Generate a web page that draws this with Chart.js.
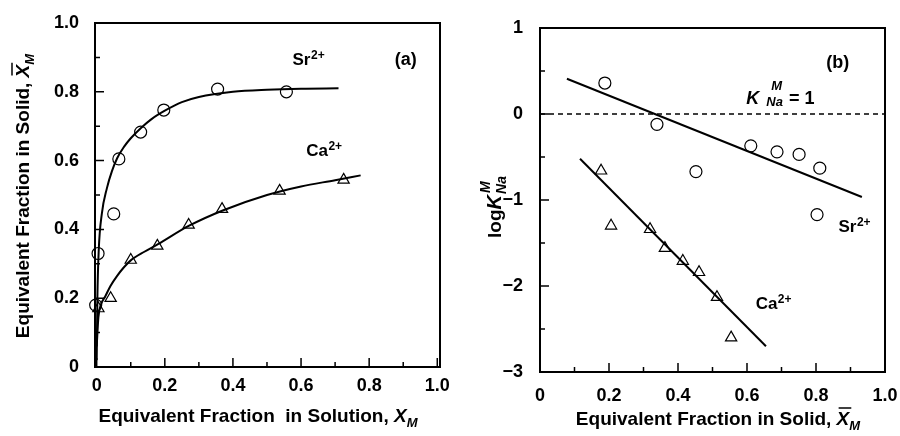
<!DOCTYPE html>
<html>
<head>
<meta charset="utf-8">
<script src="https://cdn.jsdelivr.net/npm/chart.js@4.4.0/dist/chart.umd.min.js"></script>
<style>
  body { margin: 0; background: #fff; }
  #wrap { position: relative; width: 900px; height: 436px; }
  canvas { position: absolute; top: 0; }
</style>
</head>
<body>
<div id="wrap">
  <canvas id="chartA" width="450" height="436" style="left:0"></canvas>
  <canvas id="chartB" width="450" height="436" style="left:450px"></canvas>
</div>
<script>
'use strict';

// ---- panel (a): equivalent fraction in solid vs in solution
let srSolution = [-0.003, 0.004, 0.05, 0.065, 0.129, 0.197, 0.355, 0.557];
let srSolid = [0.18, 0.33, 0.445, 0.605, 0.683, 0.747, 0.808, 0.80];
let caSolution = [0.005, 0.041, 0.10, 0.178, 0.27, 0.368, 0.537, 0.725];
let caSolid = [0.17, 0.20, 0.311, 0.352, 0.413, 0.459, 0.512, 0.544];

// fitted curves
let srCurveX = [0, 0.002, 0.006, 0.015, 0.03, 0.045, 0.06, 0.08, 0.1, 0.13, 0.16, 0.2, 0.25, 0.3, 0.4, 0.5, 0.6, 0.71];
let srCurveY = [0.02, 0.2, 0.34, 0.445, 0.52, 0.57, 0.607, 0.64, 0.665, 0.695, 0.72, 0.745, 0.77, 0.785, 0.80, 0.806, 0.809, 0.81];
let caCurveX = [0, 0.005, 0.012, 0.025, 0.04, 0.06, 0.08, 0.1, 0.14, 0.18, 0.27, 0.37, 0.5, 0.6, 0.7, 0.775];
let caCurveY = [0.06, 0.145, 0.18, 0.205, 0.235, 0.265, 0.29, 0.31, 0.335, 0.357, 0.41, 0.455, 0.5, 0.525, 0.543, 0.557];

let ticksA_x = [0, 0.2, 0.4, 0.6, 0.8, 1.0];
let labelsA_x = ['0', '0.2', '0.4', '0.6', '0.8', '1.0'];
let ticksA_y = [0, 0.2, 0.4, 0.6, 0.8, 1.0];
let labelsA_y = ['0', '0.2', '0.4', '0.6', '0.8', '1.0'];

// ---- panel (b): log K vs equivalent fraction in solid
let srSolidB = [0.188, 0.339, 0.452, 0.611, 0.687, 0.751, 0.811, 0.803];
let srLogK = [0.36, -0.12, -0.67, -0.37, -0.44, -0.47, -0.63, -1.17];
let caSolidB = [0.177, 0.206, 0.319, 0.362, 0.414, 0.461, 0.513, 0.554];
let caLogK = [-0.66, -1.30, -1.34, -1.56, -1.71, -1.84, -2.13, -2.60];

let srLineX = [0.078, 0.933];
let srLineY = [0.41, -0.965];
let caLineX = [0.116, 0.655];
let caLineY = [-0.52, -2.70];
let unityX = [0, 1];
let unityY = [0, 0];

let ticksB_x = [0, 0.2, 0.4, 0.6, 0.8, 1.0];
let labelsB_x = ['0', '0.2', '0.4', '0.6', '0.8', '1.0'];
let ticksB_y = [-3, -2, -1, 0, 1];
let labelsB_y = ['\u22123', '\u22122', '\u22121', '0', '1'];

const FAM = '"Liberation Sans", Arial, Helvetica, sans-serif';
function fnt(size, style) { return (style || 'bold') + ' ' + size + 'px ' + FAM; }

function pts(xs, ys) {
  return xs.map((x, i) => ({ x: x, y: ys[i] }));
}

// draw a row of text pieces (sub/superscripts, overlines)
function drawRich(ctx, x, y, parts, align) {
  let total = 0;
  parts.forEach(p => {
    ctx.font = p.font;
    p.w = ctx.measureText(p.t).width;
    if (p.adv !== false) total += p.w + (p.dx || 0);
  });
  let cx = align === 'center' ? x - total / 2 : (align === 'right' ? x - total : x);
  ctx.textAlign = 'left';
  ctx.textBaseline = 'alphabetic';
  ctx.fillStyle = '#000';
  parts.forEach(p => {
    ctx.font = p.font;
    let px = cx + (p.dx || 0);
    ctx.fillText(p.t, px, y + (p.dy || 0));
    if (p.over) {
      ctx.save();
      ctx.strokeStyle = '#000';
      ctx.lineWidth = 1.5;
      ctx.beginPath();
      ctx.moveTo(px + 2, y - p.over);
      ctx.lineTo(px + p.w + 2, y - p.over);
      ctx.stroke();
      ctx.restore();
    }
    if (p.adv !== false) cx = px + p.w;
  });
}

function makeDecor(cfg) {
  return {
    id: 'decor',
    afterDraw(chart) {
      let ctx = chart.ctx;
      let a = chart.chartArea;
      let xs = chart.scales.x, ys = chart.scales.y;
      ctx.save();
      ctx.strokeStyle = '#000';
      // inward ticks on bottom and left
      ctx.lineWidth = 1.5;
      ctx.beginPath();
      for (let v = cfg.xFrom; v <= cfg.xTo + 1e-9; v += cfg.xStep) {
        let px = xs.getPixelForValue(v);
        let major = Math.abs(v / cfg.xMajor - Math.round(v / cfg.xMajor)) < 1e-6;
        ctx.moveTo(px, a.bottom);
        ctx.lineTo(px, a.bottom - (major ? 9 : 5));
      }
      for (let v = cfg.yFrom; v <= cfg.yTo + 1e-9; v += cfg.yStep) {
        let py = ys.getPixelForValue(v);
        let major = Math.abs(v / cfg.yMajor - Math.round(v / cfg.yMajor)) < 1e-6;
        ctx.moveTo(a.left, py);
        ctx.lineTo(a.left + (major ? 9 : 5), py);
      }
      ctx.stroke();
      // frame
      ctx.lineWidth = 2;
      ctx.strokeRect(a.left, a.top, a.right - a.left, a.bottom - a.top);
      // labels inside the plot
      cfg.notes.forEach(n => {
        drawRich(ctx, xs.getPixelForValue(n.x), ys.getPixelForValue(n.y), n.parts, n.align || 'left');
      });
      // axis titles
      drawRich(ctx, cfg.xTitle.cx, cfg.xTitle.base, cfg.xTitle.parts, 'center');
      ctx.translate(cfg.yTitle.base, cfg.yTitle.cy);
      ctx.rotate(-Math.PI / 2);
      drawRich(ctx, 0, 0, cfg.yTitle.parts, 'center');
      ctx.restore();
    }
  };
}

function scaleOpts(min, max, ticks, labels, fitSize, isX, pad) {
  return {
    type: 'linear',
    min: min,
    max: max,
    afterBuildTicks: s => { s.ticks = ticks.map(v => ({ value: v })); },
    afterFit: s => {
      // keep the plot box where the picture has it, labels may overhang
      if (isX) { s.height = fitSize; s.paddingLeft = 0; s.paddingRight = 0; }
      else { s.width = fitSize; s.paddingTop = 0; s.paddingBottom = 0; }
    },
    grid: { display: false, drawTicks: false },
    border: { display: false },
    title: { display: false },
    ticks: {
      padding: pad,
      color: '#000',
      font: { family: FAM, size: 18, weight: 'bold' },
      callback: (v, i) => labels[i]
    }
  };
}

function ion(name) {
  return [{ t: name, font: fnt(17) }, { t: '2+', font: fnt(12), dy: -6, dx: 0.5 }];
}

let lineDs = (data) => ({
  type: 'scatter', data: data, showLine: true, borderColor: '#000', borderWidth: 2,
  pointRadius: 0, cubicInterpolationMode: 'monotone', fill: false
});
let markDs = (data, style) => ({
  type: 'scatter', data: data, showLine: false, pointStyle: style, pointRadius: style === 'triangle' ? 6.5 : 6,
  borderColor: '#000', borderWidth: 1.2, backgroundColor: 'rgba(0,0,0,0)', clip: false
});

// ---- chart (a)
new Chart(document.getElementById('chartA'), {
  type: 'scatter',
  data: {
    datasets: [
      lineDs(pts(srCurveX, srCurveY)),
      lineDs(pts(caCurveX, caCurveY)),
      markDs(pts(srSolution, srSolid), 'circle'),
      markDs(pts(caSolution, caSolid), 'triangle')
    ]
  },
  options: {
    responsive: false,
    animation: false,
    layout: { padding: { top: 23, right: 10, left: 0, bottom: 0 } },
    plugins: { legend: { display: false }, tooltip: { enabled: false } },
    scales: {
      x: scaleOpts(-0.005, 1.008, ticksA_x, labelsA_x, 69, true, 8),
      y: scaleOpts(0, 1, ticksA_y, labelsA_y, 95, false, 16)
    }
  },
  plugins: [makeDecor({
    xFrom: 0, xTo: 1, xStep: 0.1, xMajor: 0.2,
    yFrom: 0, yTo: 1, yStep: 0.1, yMajor: 0.2,
    notes: [
      { x: 0.575, y: 0.878, parts: ion('Sr') },
      { x: 0.615, y: 0.613, parts: ion('Ca') },
      { x: 0.875, y: 0.878, parts: [{ t: '(a)', font: fnt(18) }] }
    ],
    xTitle: { cx: 258, base: 422, parts: [
      { t: 'Equivalent Fraction  in Solution, ', font: fnt(19) },
      { t: 'X', font: fnt(19, 'italic bold') },
      { t: 'M', font: fnt(13, 'italic bold'), dy: 5 }
    ] },
    yTitle: { base: 29, cy: 196, parts: [
      { t: 'Equivalent Fraction in Solid, ', font: fnt(19) },
      { t: 'X', font: fnt(19, 'italic bold'), over: 17 },
      { t: 'M', font: fnt(13, 'italic bold'), dy: 5 }
    ] }
  })]
});

// ---- chart (b)
let dashDs = Object.assign(lineDs(pts(unityX, unityY)), { borderWidth: 1.5, borderDash: [5, 4], cubicInterpolationMode: 'default' });
new Chart(document.getElementById('chartB'), {
  type: 'scatter',
  data: {
    datasets: [
      dashDs,
      Object.assign(lineDs(pts(srLineX, srLineY)), { cubicInterpolationMode: 'default' }),
      Object.assign(lineDs(pts(caLineX, caLineY)), { cubicInterpolationMode: 'default' }),
      markDs(pts(srSolidB, srLogK), 'circle'),
      markDs(pts(caSolidB, caLogK), 'triangle')
    ]
  },
  options: {
    responsive: false,
    animation: false,
    layout: { padding: { top: 28, right: 15, left: 0, bottom: 0 } },
    plugins: { legend: { display: false }, tooltip: { enabled: false } },
    scales: {
      x: scaleOpts(0, 1, ticksB_x, labelsB_x, 64, true, 13),
      y: scaleOpts(-3, 1, ticksB_y, labelsB_y, 90, false, 17)
    }
  },
  plugins: [makeDecor({
    xFrom: 0, xTo: 1, xStep: 0.1, xMajor: 0.2,
    yFrom: -3, yTo: 1, yStep: 0.5, yMajor: 1,
    notes: [
      { x: 0.865, y: -1.37, parts: ion('Sr') },
      { x: 0.625, y: -2.27, parts: ion('Ca') },
      { x: 0.83, y: 0.53, parts: [{ t: '(b)', font: fnt(18) }] },
      { x: 0.598, y: 0.115, parts: [
        { t: 'K', font: fnt(18, 'italic bold') },
        { t: 'M', font: fnt(13, 'italic bold'), dx: 12, dy: -14, adv: false },
        { t: 'Na', font: fnt(13, 'italic bold'), dx: 7, dy: 2 },
        { t: '= 1', font: fnt(18), dx: 6 }
      ] }
    ],
    xTitle: { cx: 268, base: 425, parts: [
      { t: 'Equivalent Fraction in Solid, ', font: fnt(19) },
      { t: 'X', font: fnt(19, 'italic bold'), over: 17 },
      { t: 'M', font: fnt(13, 'italic bold'), dy: 5 }
    ] },
    yTitle: { base: 51, cy: 207, parts: [
      { t: 'log', font: fnt(19) },
      { t: 'K', font: fnt(20, 'italic bold') },
      { t: 'M', font: fnt(14, 'italic bold'), dx: 2, dy: -11, adv: false },
      { t: 'Na', font: fnt(14, 'italic bold'), dx: 1, dy: 5 }
    ] }
  })]
});
</script>
</body>
</html>
